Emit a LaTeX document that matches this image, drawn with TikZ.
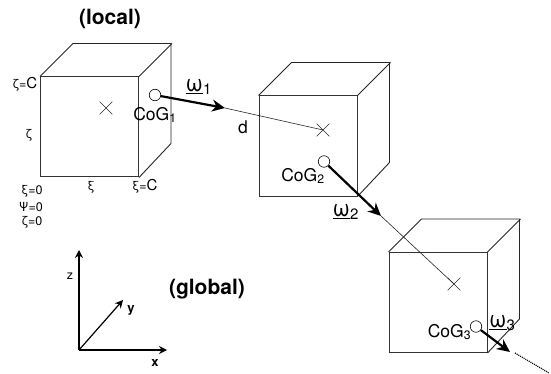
\documentclass[tikz,border=0pt]{standalone}
\usepackage{fontspec}
\setmainfont{TeX Gyre Heros}
\usepackage{tikz}
\usetikzlibrary{shapes.misc, arrows.meta, positioning}

\newcommand{\bigc}{{\fontsize{15}{15}\selectfont C}}
\newcommand{\omegabar}[1]{{\fontsize{23}{23}\selectfont\underline{ω}\raisebox{-3pt}{\fontsize{15}{15}\selectfont #1}}}

\begin{document}
\begin{tikzpicture}[
    x=1pt, y=-1pt,
    cube/.style={rectangle, draw=black!80, line width=1pt, minimum width=98pt, minimum height=100pt, inner sep=0pt},
    cubeedge/.style={draw=black!85, line width=0.9pt},
    centre/.style={cross out, draw=black!85, line width=0.6pt, minimum size=12pt, inner sep=0pt},
    cog/.style={circle, draw, fill=white, line width=0.6pt, minimum size=11.5pt, inner sep=0pt},
    txt/.style={inner sep=0pt, font=\fontsize{17.5}{18}\selectfont},
    small/.style={inner sep=0pt, font=\fontsize{12.5}{13}\selectfont},
    title/.style={inner sep=0pt, font=\fontsize{21}{22}\selectfont\bfseries},
    omega/.style={-{Stealth[length=13pt, width=12pt]}, line width=2.2pt},
    link/.style={line width=0.6pt, black!85},
    axis/.style={-{Stealth[length=8pt, width=8pt]}, line width=1.2pt},
]
\useasboundingbox (0,0) rectangle (551,374);

% cubes
\node[cube] (cube1) at (89.5,127) {};
\node[cube] (cube2) at (308,146) {};
\node[cube] (cube3) at (438,302.5) {};
\foreach \c in {cube1, cube2, cube3} {
    \draw[cubeedge] (\c.north west) -- ++(33,-33) -- ++(98,0) -- ++(0,100) -- (\c.south east);
    \draw[cubeedge] (\c.north east) -- ++(33,-33);
}

% centres and CoG
\node[centre] (centre1) at (106,108) {};
\node[centre] (centre2) at (323,130) {};
\node[centre] (centre3) at (454,284) {};
\coordinate (tip1) at (225,108);
\coordinate (tip2) at (381,216);
\coordinate (tip3) at (510,352);
\coordinate (tail3) at (515,353);
\coordinate (end3) at (549,373);
\node[cog] (cog1) at (155,95) {};
\node[cog] (cog2) at (324,161.5) {};
\node[cog] (cog3) at (476,326.5) {};
\node[txt] (coglabel1) at (155,115) {CoG\textsubscript{1}};
\node[txt] (coglabel2) at (303,176) {CoG\textsubscript{2}};
\node[txt] (coglabel3) at (449.5,332) {CoG\textsubscript{3}};

% arrows
\draw[omega] (cog1) -- (tip1);
\draw[omega] (cog2) -- (tip2);
\draw[omega] (cog3) -- (tip3);
\draw[link] (tip1) -- (centre2.center);
\draw[link] (tip2) -- (centre3.center);
\draw[dash pattern=on 1pt off 1pt, line width=1.2pt] (tail3) -- (end3);

\node[txt] (omega1) at (198.5,87) {\omegabar{1}};
\node[txt] (omega2) at (345.5,212) {\omegabar{2}};
\node[txt] (omega3) at (502,323) {\omegabar{3}};
\node[txt] (dist) at (243,127) {d};

% local labels
\node[title] (local) at (110,18.5) {(local)};
\node[small] (zetac) at (25,84) {ζ=\bigc};
\node[small] (zeta) at (29,135) {ζ};
\node[small] (xi) at (91,187) {ξ};
\node[small] (xic) at (145,186) {ξ=\bigc};
\node[small] (xi0) at (32,191) {ξ=0};
\node[small] (psi0) at (31,207) {Ψ=0};
\node[small] (zeta0) at (32,222) {ζ=0};

% global axes
\coordinate (origin) at (79,350);
\coordinate (zaxis) at (79,250);
\coordinate (xaxis) at (167,350);
\coordinate (yaxis) at (123,300);
\draw[axis] (origin) -- (zaxis);
\draw[axis] (origin) -- (xaxis);
\draw[axis] (origin) -- (yaxis);
\node[small] (zlabel) at (70,276) {z};
\node[small, font=\fontsize{13}{13}\selectfont\bfseries] (ylabel) at (131,310) {y};
\node[small, font=\fontsize{13}{13}\selectfont\bfseries] (xlabel) at (155,363) {x};
\node[title] (global) at (207,289) {(global)};

\end{tikzpicture}
\end{document}
